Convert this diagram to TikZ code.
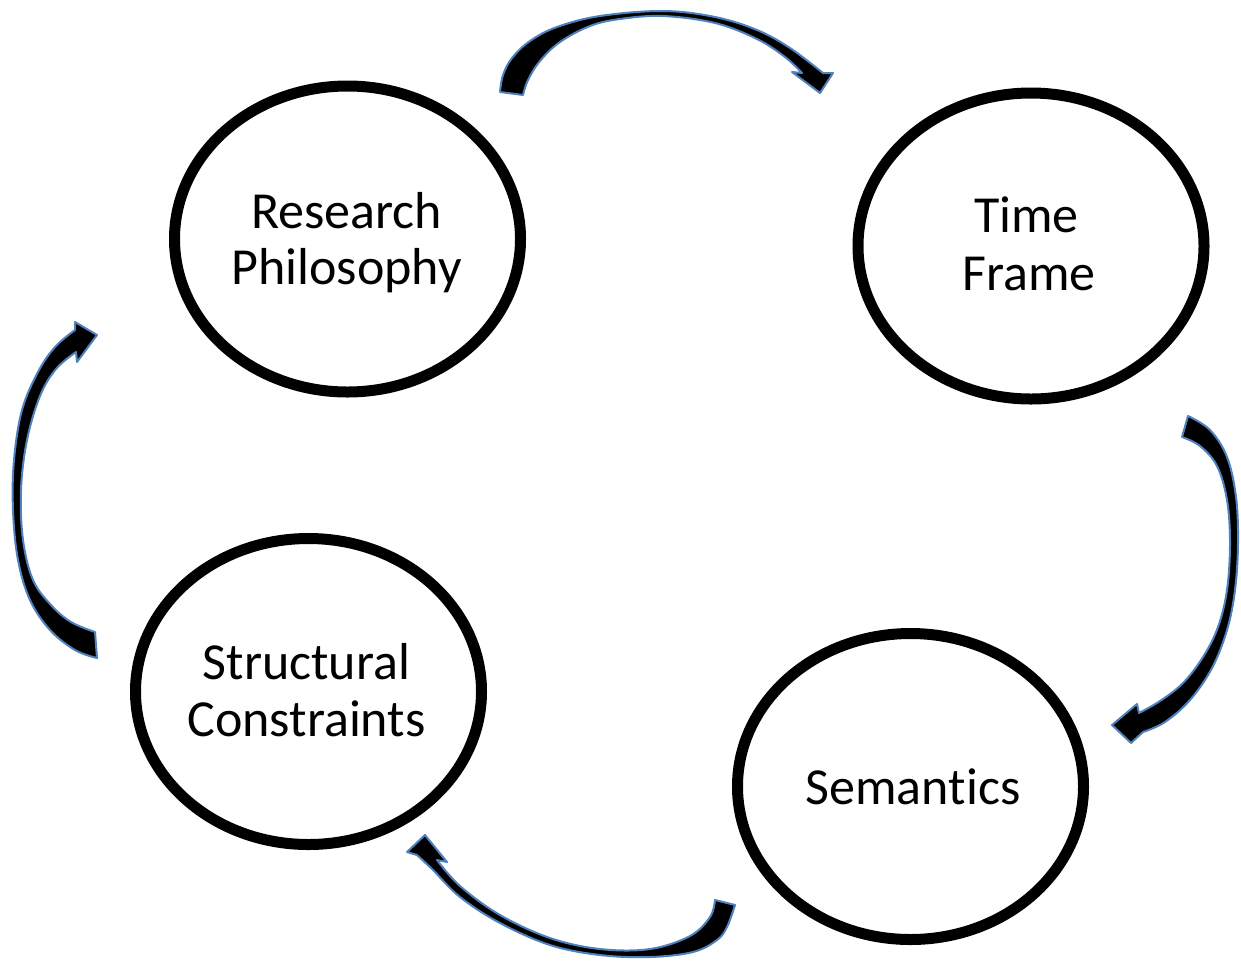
\documentclass[tikz,border=0pt]{standalone}
\usepackage{fontspec}
\setmainfont{Carlito}[Ligatures=NoCommon]
\usetikzlibrary{shapes.geometric}
\definecolor{arrowblue}{RGB}{79,129,189}
\tikzset{
  ring/.style={draw=black, line width=5.5pt, ellipse, fill=white,
    minimum width=173pt, minimum height=153pt, inner sep=0pt},
  lbl/.style={font=\fontsize{26}{28}\selectfont, anchor=base, inner sep=0pt},
  blockarrow/.style={fill=black, draw=arrowblue, line width=1pt, line join=round}
}
\begin{document}
\begin{tikzpicture}[x=0.5pt, y=-0.5pt]
\useasboundingbox (0,0) rectangle (1241,960);
% ellipses
\node[ring] (rp) at (347.5,239) {};
\node[ring] (tf) at (1031,246) {};
\node[ring] (sc) at (308.5,691.5) {};
\node[ring] (se) at (910.5,786.5) {};
% labels
\node[lbl] (rp1) at (346.5,228) {Research};
\node[lbl] (rp2) at (346.5,284) {Philosophy};
\node[lbl] (tf1) at (1026.5,232) {Time};
\node[lbl] (tf2) at (1029,290) {Frame};
\node[lbl] (sc1) at (306.5,679) {Structural};
\node[lbl] (sc2) at (306.5,736) {Constraints};
\node[lbl] (se1) at (913,804) {Semantics};
% arrow 1: top (Research -> Time)
\path[blockarrow] (500,92)
  -- plot[smooth, tension=0.6] coordinates {(500,92) (503,75) (512,58) (530,41) (557,27) (600,16) (663,11) (715,17) (757,30) (790,48) (823,73)}
  -- (833,73) -- (820,93) -- (792,72) -- (802,73)
  -- plot[smooth, tension=0.6] coordinates {(802,73) (785,57) (757,39) (715,23) (663,16) (620,19) (590,26) (560,42) (540,61) (528,80) (523,95)}
  -- cycle;
% arrow 2: right (Time -> Semantics)
\path[blockarrow] (1188,416)
  -- plot[smooth, tension=0.6] coordinates {(1188,416) (1210,430) (1227,457) (1236,497) (1238,543) (1235,590) (1227,630) (1212,668) (1190,700) (1165,722) (1143,732)}
  -- (1131,743) -- (1112,725) -- (1137,704) -- (1139,713)
  -- plot[smooth, tension=0.6] coordinates {(1139,713) (1160,701) (1183,683) (1203,657) (1218,627) (1227,590) (1230,543) (1227,500) (1217,466) (1200,446) (1182,437)}
  -- cycle;
% arrow 3: bottom (Semantics -> Structural)
\path[blockarrow] (735,905)
  -- plot[smooth, tension=0.6] coordinates {(735,905) (727,927) (717,940) (693,952) (650,957) (600,955) (550,945) (500,923) (460,897) (433,870) (417,855)}
  -- (407,852) -- (425,835) -- (447,862) -- (437,860)
  -- plot[smooth, tension=0.6] coordinates {(437,860) (460,886) (500,915) (550,938) (600,949) (650,949) (690,936) (710,917) (715,900)}
  -- cycle;
% arrow 4: left (Structural -> Research)
\path[blockarrow] (97,658)
  -- plot[smooth, tension=0.6] coordinates {(97,658) (75,650) (50,630) (30,600) (18,560) (13,510) (14,460) (22,410) (38,372) (55,347) (75,330)}
  -- (75,322) -- (97,335) -- (77,362) -- (76,352)
  -- plot[smooth, tension=0.6] coordinates {(76,352) (56,369) (40,396) (27,440) (21,490) (23,540) (33,580) (51,605) (71,622) (95,632)}
  -- cycle;
\end{tikzpicture}
\end{document}
